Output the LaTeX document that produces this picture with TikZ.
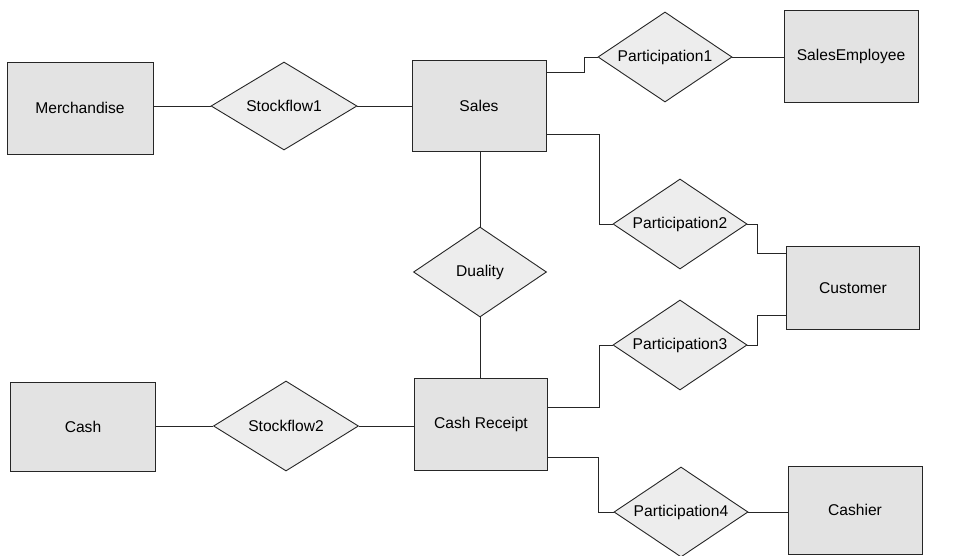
\documentclass[tikz,border=0pt]{standalone}
\usepackage{fontspec}
\setmainfont{Liberation Sans}
\usetikzlibrary{shapes.geometric}
\begin{document}
\begin{tikzpicture}[x=1pt,y=-1pt,
  every node/.style={font=\fontsize{15.6}{18}\selectfont},
  entity/.style={draw=black!85,line width=0.9pt,fill=black!11,rectangle,inner sep=0pt,minimum width=134pt,minimum height=91pt},
  rel/.style={draw=black!85,line width=0.9pt,fill=black!7,diamond,aspect=1.5,inner sep=0pt,minimum width=134pt,minimum height=90pt},
  conn/.style={draw=black!85,line width=0.9pt}]
\useasboundingbox[fill=white] (0,0) rectangle (969,556);
% entities
\node[entity,minimum width=146pt,minimum height=92pt] (Merch) at (80,108) {Merchandise};
\node[entity] (Sales) at (479,106) {Sales};
\node[entity,minimum height=92pt] (SalesEmp) at (851,56) {SalesEmployee};
\node[entity,minimum width=133pt,minimum height=83pt] (Customer) at (853,288) {Customer};
\node[entity,minimum width=145pt,minimum height=89pt] (Cash) at (83,427) {Cash};
\node[entity,minimum width=133pt,minimum height=92pt] (CR) at (481,424) {Cash Receipt};
\node[entity,minimum height=88pt] (Cashier) at (855,510) {Cashier};
% relationships
\node[rel,minimum width=146pt,minimum height=88pt] (SF1) at (284,106) {Stockflow1};
\node[rel] (P1) at (665,57) {Participation1};
\node[rel] (P2) at (680,224) {Participation2};
\node[rel,minimum width=133pt] (Duality) at (480,272) {Duality};
\node[rel] (P3) at (680,345) {Participation3};
\node[rel,minimum width=145pt] (SF2) at (286,426) {Stockflow2};
\node[rel] (P4) at (681,512) {Participation4};
% elbow points
\coordinate (k1) at (584,72);
\coordinate (k2) at (599,134);
\coordinate (k3) at (757,253);
\coordinate (k4) at (757,315);
\coordinate (k5) at (599,407);
\coordinate (k6) at (598,457);
% connectors
\draw[conn] (Merch.east |- SF1.west) -- (SF1.west);
\draw[conn] (SF1.east) -- (Sales.west |- SF1.east);
\draw[conn] (Sales.east |- k1) -- (k1) |- (P1.west);
\draw[conn] (P1.east) -- (SalesEmp.west |- P1.east);
\draw[conn] (Sales.east |- k2) -- (k2) |- (P2.west);
\draw[conn] (P2.east) -| (k3) -- (Customer.west |- k3);
\draw[conn] (P3.east) -| (k4) -- (Customer.west |- k4);
\draw[conn] (Sales.south -| Duality.north) -- (Duality.north);
\draw[conn] (Duality.south) -- (CR.north -| Duality.south);
\draw[conn] (Cash.east |- SF2.west) -- (SF2.west);
\draw[conn] (SF2.east) -- (CR.west |- SF2.east);
\draw[conn] (P3.west) -| (k5) -- (CR.east |- k5);
\draw[conn] (CR.east |- k6) -- (k6) |- (P4.west);
\draw[conn] (P4.east) -- (Cashier.west |- P4.east);
\end{tikzpicture}
\end{document}
